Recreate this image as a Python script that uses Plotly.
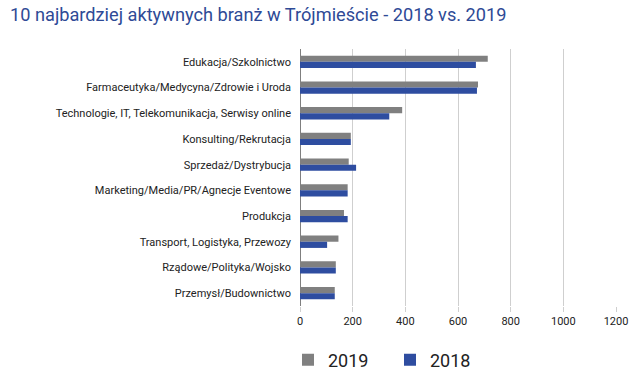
import plotly.graph_objects as go

categories = [
    "Edukacja/Szkolnictwo",
    "Farmaceutyka/Medycyna/Zdrowie i Uroda",
    "Technologie, IT, Telekomunikacja, Serwisy online",
    "Konsulting/Rekrutacja",
    "Sprzedaż/Dystrybucja",
    "Marketing/Media/PR/Agnecje Eventowe",
    "Produkcja",
    "Transport, Logistyka, Przewozy",
    "Rządowe/Polityka/Wojsko",
    "Przemysł/Budownictwo",
]
values_2019 = [713, 676, 388, 193, 185, 181, 167, 146, 136, 132]
values_2018 = [668, 672, 339, 193, 213, 181, 181, 103, 136, 132]
x_ticks = [0, 200, 400, 600, 800, 1000, 1200]

GREY = "#808080"
BLUE = "#2E4DA0"

fig = go.Figure()
fig.add_trace(go.Bar(name="2019", y=categories, x=values_2019, orientation="h",
                     marker=dict(color=GREY, line=dict(width=0))))
fig.add_trace(go.Bar(name="2018", y=categories, x=values_2018, orientation="h",
                     marker=dict(color=BLUE, line=dict(width=0))))

fig.update_layout(
    width=640, height=378,
    margin=dict(l=300, r=24, t=49, b=72),
    paper_bgcolor="white", plot_bgcolor="white",
    barmode="group", bargap=0.52, bargroupgap=0,
    font=dict(family="Roboto", color="#222222"),
    title=dict(text="10 najbardziej aktywnych branż w Trójmieście - 2018 vs. 2019",
               x=10/640, xanchor="left", y=1-15/378, yanchor="middle",
               font=dict(family="Roboto", size=18.2, color="#2E4A96")),
    showlegend=True,
    legend=dict(orientation="h", xref="container", yref="container",
                x=288/640, xanchor="left", y=1-360/378, yanchor="middle",
                font=dict(size=18, color="#222222"), traceorder="normal",
                itemwidth=30, entrywidth=57, entrywidthmode="pixels"),
    xaxis=dict(range=[0, 1200], tickvals=x_ticks, showgrid=True,
               gridcolor="#CFCFCF", gridwidth=1, zeroline=True,
               zerolinecolor="#7F7F7F", zerolinewidth=1,
               ticks="outside", ticklen=5, tickcolor="#CFCFCF",
               tickfont=dict(size=11, color="#222222"), fixedrange=True),
    yaxis=dict(autorange="reversed", showgrid=False,
               tickfont=dict(size=11, color="#222222"),
               ticklabelstandoff=8, fixedrange=True),
)

fig.write_html("out.html", config={"displayModeBar": False},
               post_script="document.body.style.margin='0';")
